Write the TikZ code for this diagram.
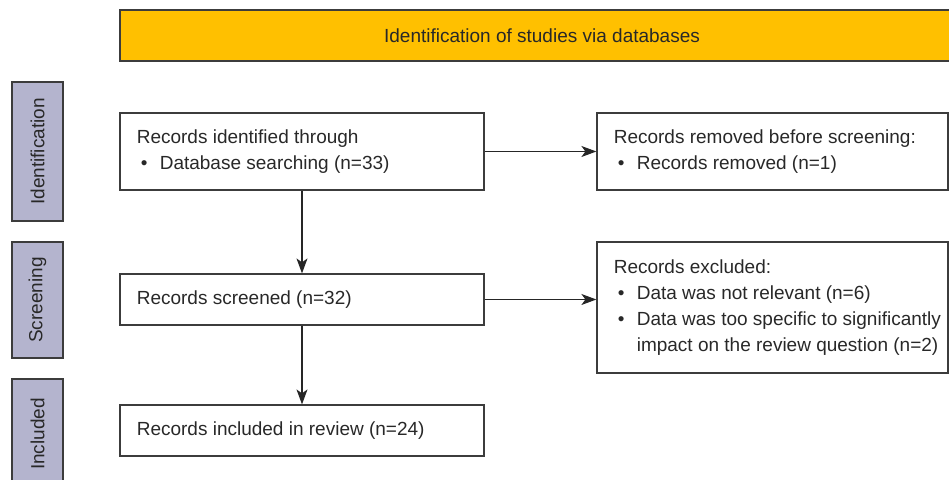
\documentclass[tikz,border=0pt]{standalone}
\usepackage{fontspec}
\setmainfont{Liberation Sans}
\usetikzlibrary{arrows.meta,calc}

\definecolor{bannergold}{RGB}{255,192,0}
\definecolor{phaseblue}{RGB}{180,180,206}
\definecolor{edgegray}{RGB}{60,60,60}
\definecolor{textgray}{RGB}{40,40,40}

\newcommand{\bul}{\hspace*{2pt}\makebox[9.5pt][l]{\textbullet}}

\tikzset{
  box/.style={draw=edgegray,line width=0.6pt,rectangle,inner sep=0pt},
  txt/.style={anchor=west,align=left,inner sep=0pt,text=textgray,
    font=\fontsize{9.5}{13}\selectfont},
  phase/.style={box,fill=phaseblue,rotate=90,minimum height=25.5pt,
    text=textgray,font=\fontsize{9.5}{12}\selectfont},
  flow/.style={draw=black!85,line width=0.6pt,
    -{Stealth[length=7.5pt,width=5.5pt,inset=2pt]}}
}

\begin{document}
\begin{tikzpicture}[x=0.5pt,y=-0.5pt]
  \useasboundingbox (0,0) rectangle (949,480);
  \node[box,fill=bannergold,minimum width=422pt,minimum height=25.5pt,
    text=textgray,font=\fontsize{9.5}{12}\selectfont]
    (banner) at (542,35.5) {Identification of studies via databases};

  \node[phase,minimum width=69.5pt] (phid) at (37.5,151.5) {Identification};
  \node[phase,minimum width=58pt] (phscr) at (37.5,300) {Screening};
  \node[phase,minimum width=55pt] (phinc) at (37.5,434) {Included};

  \node[box,minimum width=182pt,minimum height=38.5pt] (ident) at (302,151.5) {};
  \node[txt] (identtxt) at ([xshift=8.5pt]ident.west)
    {Records identified through\\ \bul Database searching (n=33)};

  \node[box,minimum width=175.5pt,minimum height=38.5pt] (removed) at (772.5,151.5) {};
  \node[txt] (removedtxt) at ([xshift=8.5pt]removed.west)
    {Records removed before screening:\\ \bul Records removed (n=1)};

  \node[box,minimum width=182pt,minimum height=25.5pt] (screened) at (302,299.5) {};
  \node[txt] (screenedtxt) at ([xshift=8.5pt]screened.west)
    {Records screened (n=32)};

  \node[box,minimum width=175.5pt,minimum height=65.5pt] (excluded) at (772.5,307.5) {};
  \node[txt] (excludedtxt) at ([xshift=8.5pt]excluded.west)
    {Records excluded:\\ \bul Data was not relevant (n=6)\\
     \bul Data was too specific to significantly\\
     \hspace*{11.5pt}impact on the review question (n=2)};

  \node[box,minimum width=182pt,minimum height=25.5pt] (included) at (302,430.5) {};
  \node[txt] (includedtxt) at ([xshift=8.5pt]included.west)
    {Records included in review (n=24)};

  \draw[flow] (ident) -- (screened);
  \draw[flow] (screened) -- (included);
  \draw[flow] (ident) -- (removed);
  \draw[flow] (screened.east) -- (excluded.west |- screened.east);
\end{tikzpicture}
\end{document}
